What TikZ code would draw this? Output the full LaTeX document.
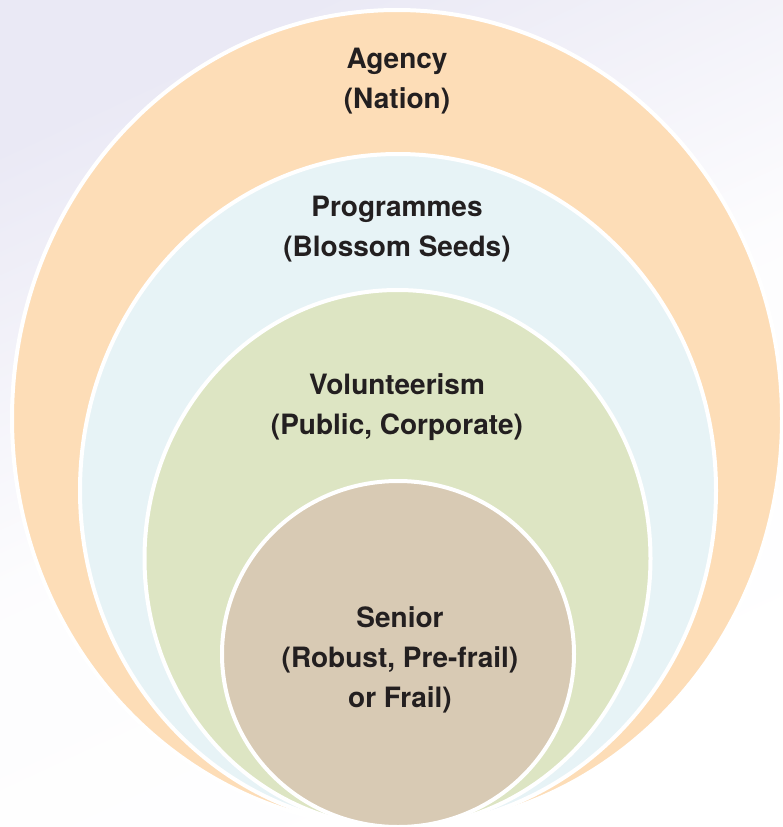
\documentclass[tikz,border=0pt]{standalone}
\usepackage{fontspec}
\setmainfont{TeX Gyre Heros}
\definecolor{bglav}{RGB}{234,233,245}
\definecolor{agencyfill}{RGB}{253,221,183}
\definecolor{progfill}{RGB}{231,243,246}
\definecolor{volfill}{RGB}{221,229,195}
\definecolor{seniorfill}{RGB}{216,202,180}
\definecolor{ink}{RGB}{35,31,32}
\tikzset{
  ring/.style={draw=white, line width=4pt},
  lbl/.style={text=ink, align=center, inner sep=0pt,
    font=\fontsize{28}{40}\selectfont\bfseries}
}
\begin{document}
\begin{tikzpicture}[x=1pt,y=-1pt]
\useasboundingbox (0,0) rectangle (783,827);
% soft background wash, fading out towards the lower edge
\shade[top color=bglav, bottom color=white, middle color=white!88!bglav, shading angle=25]
  (0,0) rectangle (783,827);
% nested layers, all resting on the bottom edge
\draw[ring, fill=agencyfill] (397,418.5) ellipse [x radius=385, y radius=408.5];
\draw[ring, fill=progfill]   (398,490.5) ellipse [x radius=318, y radius=336.5];
\draw[ring, fill=volfill]    (397.5,558.5) ellipse [x radius=253, y radius=268.5];
\draw[ring, fill=seniorfill] (398,654) ellipse [x radius=176, y radius=173];
% labels
\node[lbl] (agency) at (397,81)  {Agency\\(Nation)};
\node[lbl] (prog)   at (397,229) {Programmes\\(Blossom Seeds)};
\node[lbl] (vol)    at (397,407) {Volunteerism\\(Public, Corporate)};
\node[lbl] (senior) at (400,660) {Senior\\(Robust, Pre-frail)\\or Frail)};
\end{tikzpicture}
\end{document}
